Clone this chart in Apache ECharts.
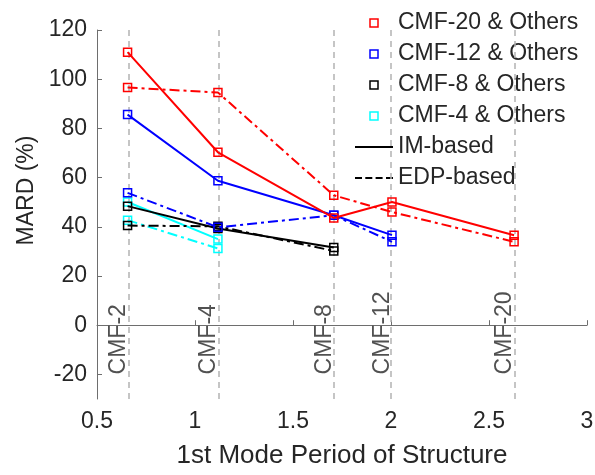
<!DOCTYPE html>
<html><head><meta charset="utf-8">
<script src="https://cdn.jsdelivr.net/npm/echarts@6/dist/echarts.min.js"></script>
<style>html,body{margin:0;padding:0;background:#fff}#c{width:595px;height:475px}</style>
</head><body><div id="c"></div>
<script>
// ---- data ----
const periods = [0.656, 1.117, 1.708, 2.005, 2.628];
const periodLabels = ['CMF-2', 'CMF-4', 'CMF-8', 'CMF-12', 'CMF-20'];
const groupNames = ['CMF-20 & Others', 'CMF-12 & Others', 'CMF-8 & Others', 'CMF-4 & Others'];
const imCMF20 = [111.0, 70.3, 43.6, 50.1, 36.6];
const edpCMF20 = [96.6, 94.6, 52.8, 46.0, 33.9];
const imCMF12 = [85.6, 58.7, 44.7, 36.6];
const edpCMF12 = [53.8, 39.8, 44.7, 33.9];
const imCMF8 = [48.4, 39.3, 31.6];
const edpCMF8 = [40.5, 40.2, 30.2];
const imCMF4 = [50.1, 35.0];
const edpCMF4 = [42.7, 31.2];
const yTicks = [-20, 0, 20, 40, 60, 80, 100, 120];
const methodNames = ['IM-based', 'EDP-based'];

// ---- style ----
const colors = ['#ff0000', '#0000ff', '#000000', '#00ffff'];
const FONT = '"Liberation Sans", Arial, Helvetica, sans-serif';
const TXT = '#262626';
const DASHDOT = [10, 4, 3, 4];
const SQUARE_ICON = 'path://M0,0L10,0L10,10L0,10Z';
const SOLID_ICON = 'path://M0,0L38,0L38,2L0,2Z';
const DASH_ICON = 'path://M0,0L7,0L7,2L0,2Z M10.3,0L17.3,0L17.3,2L10.3,2Z M20.6,0L27.6,0L27.6,2L20.6,2Z M31,0L38,0L38,2L31,2Z';

function mk(name, vals, color, dashed, z) {
  return {
    type: 'line', name: name,
    data: vals.map((v, i) => [periods[i], v]),
    symbol: 'rect', symbolSize: 8, showSymbol: true,
    lineStyle: { color: color, width: 2, type: dashed ? DASHDOT : 'solid' },
    itemStyle: { color: 'rgba(0,0,0,0)', borderColor: color, borderWidth: 1.5 },
    z: z, animation: false, silent: true
  };
}

const groups = [[imCMF20, edpCMF20], [imCMF12, edpCMF12], [imCMF8, edpCMF8], [imCMF4, edpCMF4]];
const series = [];
series.push({
  type: 'scatter', name: 'guides',
  data: periods.map((p, i) => ({ name: periodLabels[i], value: [p, -20] })),
  symbolSize: 1, itemStyle: { color: 'rgba(0,0,0,0)' }, silent: true, z: 1,
  label: { show: true, formatter: '{b}', position: [3, 0.5], rotate: 90, align: 'left', verticalAlign: 'bottom',
           fontSize: 23, color: TXT, fontFamily: FONT },
  markLine: {
    silent: true, symbol: ['none', 'none'], label: { show: false },
    lineStyle: { color: '#b3b3b3', type: [6, 5], width: 1.5 },
    data: periods.map(p => ({ xAxis: p }))
  },
  animation: false
});
groups.forEach((g, i) => {
  series.push(mk(groupNames[i], g[0], colors[i], false, 10 - i));
  series.push(mk(groupNames[i], g[1], colors[i], true, 10 - i));
});
methodNames.forEach((n, i) => {
  series.push({ type: 'line', name: n, data: [], symbol: 'none',
    lineStyle: { color: '#000', width: 2, type: i === 0 ? 'solid' : DASHDOT }, itemStyle: { color: '#000' } });
});

const chart = echarts.init(document.getElementById('c'), null, { renderer: 'canvas' });
chart.setOption({
  animation: false,
  backgroundColor: '#fff',
  grid: { left: 97, right: 8, top: 30, bottom: 76, containLabel: false, outerBoundsMode: 'none' },
  legend: {
    orient: 'vertical', left: 350, top: 6, itemWidth: 38, itemHeight: 8, itemGap: 7,
    symbolKeepAspect: true, selectedMode: false,
    textStyle: { fontSize: 23, color: TXT, fontFamily: FONT, lineHeight: 24 },
    data: groupNames.map((n, i) => ({
      name: n, icon: SQUARE_ICON,
      itemStyle: { color: 'rgba(0,0,0,0)', borderColor: colors[i], borderWidth: 1.5 }
    })).concat(methodNames.map((n, i) => ({
      name: n, icon: i === 0 ? SOLID_ICON : DASH_ICON,
      itemStyle: { color: '#000', borderWidth: 0 }
    })))
  },
  xAxis: {
    type: 'value', min: 0.5, max: 3, interval: 0.5,
    name: '1st Mode Period of Structure', nameLocation: 'middle', nameGap: 44,
    nameTextStyle: { fontSize: 26, color: TXT, fontFamily: FONT },
    axisLine: { show: true, lineStyle: { color: '#6e6e6e', width: 1 } },
    axisTick: { show: true, inside: true, length: 5, lineStyle: { color: '#6e6e6e' } },
    axisLabel: { fontSize: 23, color: TXT, fontFamily: FONT, margin: 11 },
    splitLine: { show: false }
  },
  yAxis: {
    type: 'value', min: -30, max: 120,
    name: 'MARD (%)', nameLocation: 'middle', nameGap: 52,
    nameTextStyle: { fontSize: 23, color: TXT, fontFamily: FONT, padding: [0, 0, 0, 48] },
    axisLine: { show: true, lineStyle: { color: '#6e6e6e', width: 1 } },
    axisTick: { show: true, inside: true, length: 5, customValues: yTicks, lineStyle: { color: '#6e6e6e' } },
    axisLabel: { fontSize: 23, color: TXT, fontFamily: FONT, margin: 10, customValues: yTicks },
    splitLine: { show: false }
  },
  series: series
});
</script></body></html>
